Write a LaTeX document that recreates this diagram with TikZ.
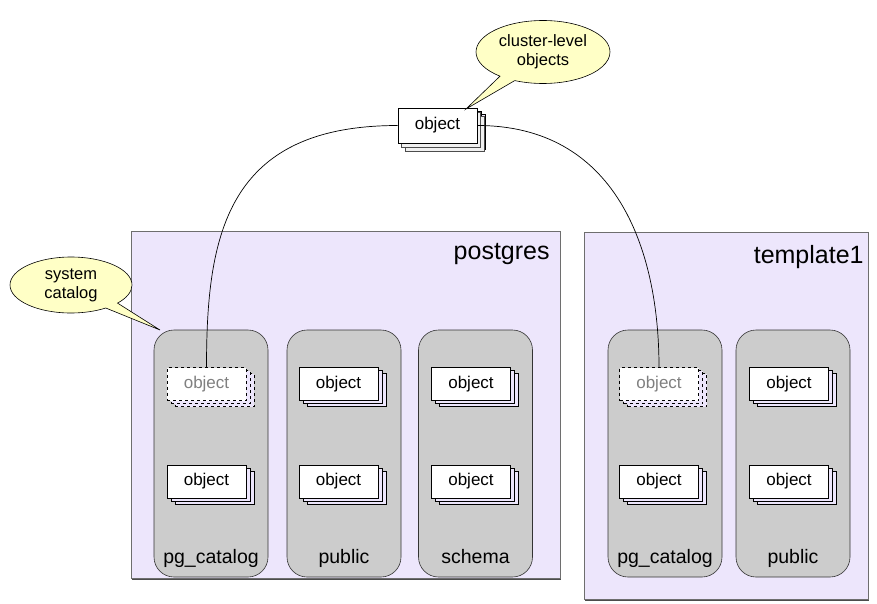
\documentclass[tikz,border=0pt]{standalone}
\usepackage{fontspec}
\setmainfont{Liberation Sans}
\usetikzlibrary{positioning,shadows,shapes.callouts}
\definecolor{DbFill}{HTML}{EDE6FC}
\definecolor{DbRule}{HTML}{6E6E6E}
\definecolor{SchemaFill}{HTML}{CCCCCC}
\definecolor{NoteFill}{HTML}{FFFFC6}
\definecolor{GhostText}{HTML}{808080}
\tikzset{
  db/.style={
    draw=DbRule, fill=DbFill, line width=.8pt, anchor=north west,
    drop shadow={shadow xshift=1pt, shadow yshift=-1.5pt, fill=black!70, opacity=1}
  },
  dbtitle/.style={font=\fontsize{25}{27}\selectfont, anchor=north east, inner sep=0pt},
  schema/.style={
    draw=black!80, fill=SchemaFill, line width=.6pt, rounded corners=20pt,
    minimum width=114pt, minimum height=247pt
  },
  schemalabel/.style={font=\fontsize{19.5}{21}\selectfont, inner sep=0pt, anchor=base},
  obj/.style={
    draw=black, fill=white, line width=.6pt,
    minimum width=79pt, minimum height=33pt, inner sep=0pt,
    font=\fontsize{17}{19}\selectfont,
    double copy shadow={shadow xshift=4pt, shadow yshift=-3pt,
      draw=black, fill=DbFill, line width=.6pt}
  },
  sharedobj/.style={
    obj, minimum height=35pt,
    double copy shadow={shadow xshift=3.5pt, shadow yshift=-4pt,
      draw=black!70, fill=black!6, line width=.6pt}
  },
  ghost/.style={
    obj, dashed, text=GhostText,
    double copy shadow={shadow xshift=4pt, shadow yshift=-3pt,
      draw=black, fill=DbFill, line width=.6pt, dashed}
  },
  note/.style={
    ellipse callout, draw=black, fill=NoteFill, line width=.6pt,
    align=center, inner sep=0pt, font=\fontsize{16.5}{19}\selectfont
  },
  link/.style={draw=black, line width=.7pt}
}

\begin{document}
\begin{tikzpicture}[x=1pt,y=-1pt]
  \useasboundingbox (0,0) rectangle (877,603);
  % databases
  \node[db, minimum width=429pt, minimum height=347pt] (postgres) at (131,231) {};
  \node[db, minimum width=284pt, minimum height=367pt] (template) at (584,232) {};
  \node[dbtitle] at ([xshift=-11pt,yshift=-12pt]postgres.north east) {postgres};
  \node[dbtitle] at ([xshift=-5pt,yshift=-13pt]template.north east) {template1};
  % schemas
  \node[schema] (pgcat1) at (211,453.5) {};
  \node[schema] (public1) at (344,453.5) {};
  \node[schema] (schema1) at (475.5,453.5) {};
  \node[schema] (pgcat2) at (665,453.5) {};
  \node[schema] (public2) at (793,453.5) {};
  \foreach \s/\lab in {pgcat1/pg\_catalog,public1/public,schema1/schema,pgcat2/pg\_catalog,public2/public}
    \node[schemalabel] at ([yshift=14pt]\s.south) {\lab};
  % objects
  \node[ghost] (ghost1) at (206.5,384) {object};
  \node[ghost] (ghost2) at (659,384) {object};
  \node[obj] (obj1) at (206.5,481.5) {object};
  \node[obj] (obj2) at (338.5,384) {object};
  \node[obj] (obj3) at (338.5,481.5) {object};
  \node[obj] (obj4) at (471,384) {object};
  \node[obj] (obj5) at (471,481.5) {object};
  \node[obj] (obj6) at (659,481.5) {object};
  \node[obj] (obj7) at (789,384) {object};
  \node[obj] (obj8) at (789,481.5) {object};
  \node[sharedobj] (shared) at (437.5,125.5) {object};
  % links from the shared object
  \draw[link] (shared.west) .. controls +(-172,0) and +(0,-131) .. (ghost1.north);
  \draw[link] (shared.east) .. controls +(137,0) and +(0,-121) .. (ghost2.north);
  % callouts
  \coordinate (systip) at (160,330);
  \coordinate (clustertip) at (466,109);
  \node[note, minimum width=122pt, minimum height=56pt,
    callout absolute pointer={(systip)}] (sysnote) at (71,285) {system\\catalog};
  \node[note, minimum width=134pt, minimum height=63pt,
    callout absolute pointer={(clustertip)}] (clusternote) at (543,52) {cluster-level\\objects};
\end{tikzpicture}
\end{document}
